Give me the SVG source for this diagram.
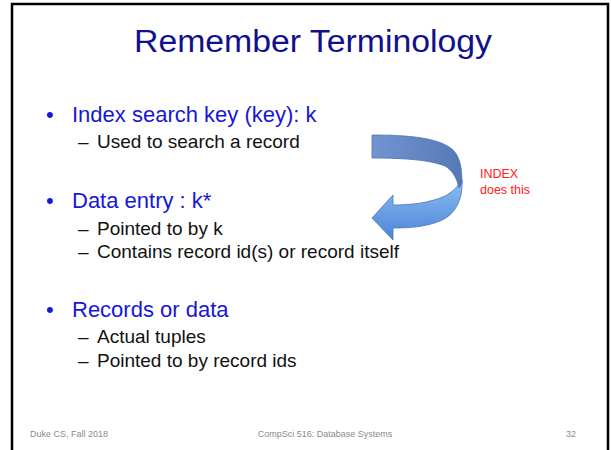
<svg xmlns="http://www.w3.org/2000/svg" width="611" height="450" viewBox="0 0 611 450">
<defs>
<style>
.t{font-family:"Liberation Sans",Arial,sans-serif}
.title{font-size:31px;fill:#10108f}
.h{font-size:22px;fill:#1717d6}
.s{font-size:19px;fill:#111}
.f{font-size:9px;fill:#8a8a8a}
.r{font-size:12.5px;fill:#ff2020}
</style>
<linearGradient id="gu" x1="0" y1="0" x2="1" y2="0">
<stop offset="0" stop-color="#7394cf"/>
<stop offset="1" stop-color="#5679b6"/>
</linearGradient>
<linearGradient id="gl" x1="0" y1="0" x2="0" y2="1">
<stop offset="0" stop-color="#8cbdf4"/>
<stop offset="1" stop-color="#4c84d6"/>
</linearGradient>
</defs>
<rect x="0" y="0" width="611" height="450" fill="#fff"/>
<rect x="12" y="4" width="596" height="470" fill="none" stroke="#000" stroke-width="2.5"/>
<g id="title"><text class="t title" x="313" y="52" text-anchor="middle" textLength="358" lengthAdjust="spacingAndGlyphs">Remember Terminology</text></g>
<g id="bullet1">
<text class="t h" x="46" y="122">•</text>
<text class="t h" x="72" y="122">Index search key (key): k</text>
<text class="t s" x="78" y="148">–</text>
<text class="t s" x="97" y="148">Used to search a record</text>
</g>
<g id="bullet2">
<text class="t h" x="46" y="208">•</text>
<text class="t h" x="72" y="208">Data entry : k*</text>
<text class="t s" x="78" y="235">–</text>
<text class="t s" x="97" y="235">Pointed to by k</text>
<text class="t s" x="78" y="258">–</text>
<text class="t s" x="97" y="258">Contains record id(s) or record itself</text>
</g>
<g id="bullet3">
<text class="t h" x="46" y="317">•</text>
<text class="t h" x="72" y="317">Records or data</text>
<text class="t s" x="78" y="343">–</text>
<text class="t s" x="97" y="343">Actual tuples</text>
<text class="t s" x="78" y="367">–</text>
<text class="t s" x="97" y="367">Pointed to by record ids</text>
</g>
<g id="arrow">
<path d="M462,180 C463,200 455,215 440,221 C425,227 410,228 393,228 L393,240 L372,218 L393,195 L393,205 C410,205 430,203 445,196 C452,192 457,188 459,183 Z" fill="url(#gl)" stroke="#4a74b4" stroke-width="0.8"/>
<path d="M372,135 C410,135 440,138 453,150 C460,157 462,168 462,183 L459,188 C457,178 452,170 445,166 C430,160 405,158 372,158 Z" fill="url(#gu)" stroke="#4a74b4" stroke-width="0.8"/>
</g>
<g id="note">
<text class="t r" x="480" y="178">INDEX</text>
<text class="t r" x="480" y="194">does this</text>
</g>
<g id="footer">
<text class="t f" x="30" y="437">Duke CS, Fall 2018</text>
<text class="t f" x="325" y="437" text-anchor="middle">CompSci 516: Database Systems</text>
<text class="t f" x="576" y="437" text-anchor="end">32</text>
</g>
</svg>
